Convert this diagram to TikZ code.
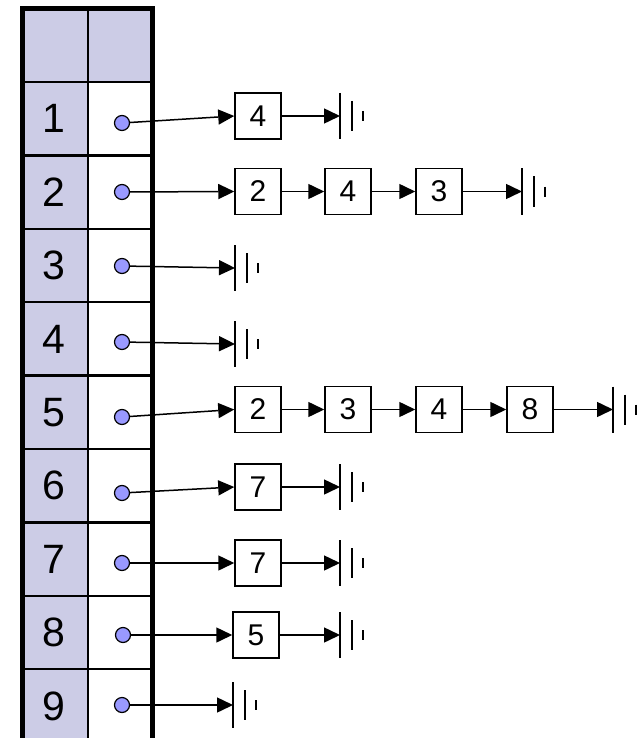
\documentclass[tikz,border=0pt]{standalone}
\usepackage{fontspec}
\setmainfont{Liberation Sans}
\usetikzlibrary{arrows.meta,calc}
\definecolor{lav}{RGB}{204,204,230}
\definecolor{dotblue}{RGB}{153,153,255}
\tikzset{
  dot/.style={circle, draw, fill=dotblue, line width=1.2pt, minimum size=15pt, inner sep=0pt},
  cell/.style={draw, line width=1.5pt, minimum width=46pt, minimum height=46pt, inner sep=0pt,
               font=\fontsize{30}{30}\selectfont},
  idx/.style={font=\fontsize{41}{41}\selectfont, inner sep=0pt},
  link/.style={line width=1.5pt, -{Triangle[length=16pt,width=15pt]}},
  earth/.pic={
    \draw[line width=2pt] (0,-23) -- (0,23);
    \draw[line width=2pt] (12,-15) -- (12,15);
    \draw[line width=1.5pt] (23,-5) -- (23,5);
  }
}
\begin{document}
\begin{tikzpicture}[x=1pt,y=-1pt]
\useasboundingbox (0,0) rectangle (640,738);

% the adjacency table (runs past the bottom edge)
\begin{scope}
  \clip (0,0) rectangle (640,738);
  \fill[lav] (22,9) rectangle (88,760);
  \fill[lav] (88,9) rectangle (152,82);
  \foreach \k in {0,...,8}
    \draw[line width=2.5pt] (22,82+73.4*\k) -- (152,82+73.4*\k);
  \draw[line width=2.2pt] (88,9) -- (88,760);
  \draw[line width=5pt, line join=miter] (22,760) -- (22,9) -- (152,9) -- (152,760);
\end{scope}

% vertex numbers
\foreach \i in {1,...,9}
  \node[idx] (n\i) at (54,82+73.4*\i-36.7) {\i};

% head pointers of the lists
\coordinate (p1) at (122,123);
\coordinate (p2) at (122,192);
\coordinate (p3) at (122,266);
\coordinate (p4) at (122,342);
\coordinate (p5) at (122,417);
\coordinate (p6) at (122,493);
\coordinate (p7) at (122,563);
\coordinate (p8) at (123,635);
\coordinate (p9) at (122,705);

% list cells
\node[cell] (b11) at (258,116) {4};

\node[cell] (b21) at (258,191.5) {2};
\node[cell] (b22) at (348,191.5) {4};
\node[cell] (b23) at (439,191.5) {3};

\node[cell] (b51) at (258,409.5) {2};
\node[cell] (b52) at (348,409.5) {3};
\node[cell] (b53) at (439,409.5) {4};
\node[cell] (b54) at (530,409.5) {8};

\node[cell] (b61) at (258,487) {7};
\node[cell] (b71) at (258,563) {7};
\node[cell] (b81) at (256,635) {5};

% list terminators
\coordinate (g1) at (340,116);
\coordinate (g2) at (522,191.5);
\coordinate (g3) at (235,268);
\coordinate (g4) at (235,344);
\coordinate (g5) at (613,409.5);
\coordinate (g6) at (340,487);
\coordinate (g7) at (340,563);
\coordinate (g8) at (340,635);
\coordinate (g9) at (233,705);
\foreach \g in {g1,g2,g3,g4,g5,g6,g7,g8,g9}
  \pic at (\g) {earth};

% links
\draw[link] (p1) -- (b11.west);
\draw[link] (b11.east) -- (g1);

\draw[link] (p2) -- (b21.west);
\draw[link] (b21.east) -- (b22.west);
\draw[link] (b22.east) -- (b23.west);
\draw[link] (b23.east) -- (g2);

\draw[link] (p3) -- (g3);
\draw[link] (p4) -- (g4);

\draw[link] (p5) -- (b51.west);
\draw[link] (b51.east) -- (b52.west);
\draw[link] (b52.east) -- (b53.west);
\draw[link] (b53.east) -- (b54.west);
\draw[link] (b54.east) -- (g5);

\draw[link] (p6) -- (b61.west);
\draw[link] (b61.east) -- (g6);
\draw[link] (p7) -- (b71.west);
\draw[link] (b71.east) -- (g7);
\draw[link] (p8) -- (b81.west);
\draw[link] (b81.east) -- (g8);

\draw[link] (p9) -- (g9);

% pointer dots on top of the link tails
\foreach \i in {1,...,9}
  \node[dot] (d\i) at (p\i) {};
\end{tikzpicture}
\end{document}
